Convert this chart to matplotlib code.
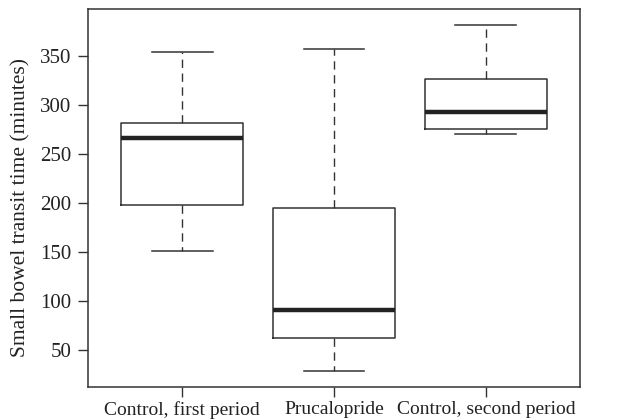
import matplotlib
matplotlib.use("Agg")
import matplotlib.pyplot as plt

groups = ["Control, first period", "Prucalopride", "Control, second period"]
whislo = [151, 28, 270]
q1 = [198, 62, 275]
med = [266, 91, 293]
q3 = [282, 195, 327]
whishi = [354, 357, 382]
yticks = [50, 100, 150, 200, 250, 300, 350]

plt.rcParams["font.family"] = ["Liberation Serif", "DejaVu Serif"]

fig = plt.figure(figsize=(6.27, 4.2), dpi=100)
ax = fig.add_axes([88 / 627, 1 - 387 / 420, 492 / 627, 378 / 420])

stats = [dict(label=g, whislo=a, q1=b, med=c, q3=d, whishi=e, fliers=[])
         for g, a, b, c, d, e in zip(groups, whislo, q1, med, q3, whishi)]
ink = "#333333"
ax.bxp(stats, positions=[1, 2, 3], widths=0.8, patch_artist=False,
       boxprops=dict(color=ink, lw=1.1),
       medianprops=dict(color="#222222", lw=3.2, solid_capstyle="butt"),
       whiskerprops=dict(color=ink, lw=1.0, ls=(0, (6, 4))),
       capprops=dict(color=ink, lw=1.1), capwidths=0.4, showfliers=False)

ax.set_xlim(0.38, 3.62)
ax.set_ylim(12, 398)
ax.set_yticks(yticks)
ax.set_xticks([1, 2, 3])
ax.set_xticklabels(groups)
ax.tick_params(axis="both", direction="out", length=7, width=1, color=ink,
               labelcolor="#222222")
ax.tick_params(axis="x", pad=3, labelsize=14)
ax.tick_params(axis="y", pad=5, labelsize=15)
for s in ax.spines.values():
    s.set_color(ink)
    s.set_linewidth(1.1)
ax.set_ylabel("Small bowel transit time (minutes)", fontsize=15.5, color="#222222")
ax.yaxis.label.set(va="center", rotation_mode="anchor")
ax.yaxis.set_label_coords(-0.136, 0.476)

fig.savefig("out.png", dpi=100)
